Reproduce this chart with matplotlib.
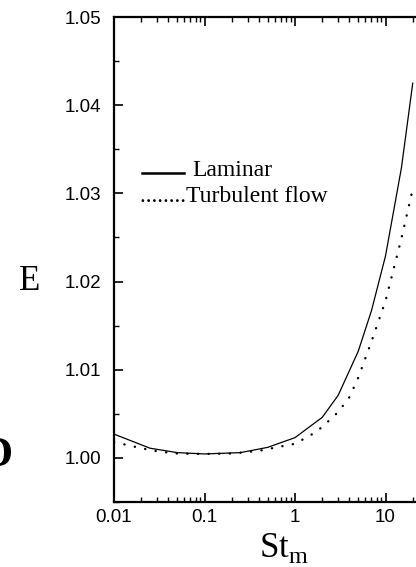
import matplotlib
matplotlib.use("Agg")
import matplotlib.pyplot as plt
from matplotlib.ticker import FixedLocator, LogLocator, NullFormatter, FixedFormatter

# Data
st_laminar = [0.01, 0.025, 0.05, 0.1, 0.25, 0.5, 1, 2, 3, 5, 7, 10, 15, 20]
e_laminar = [1.0027, 1.0011, 1.0006, 1.00045, 1.0006, 1.0012, 1.0023, 1.0046,
             1.0071, 1.0121, 1.0167, 1.0229, 1.0329, 1.0425]

st_turb = [0.01, 0.02, 0.03, 0.05, 0.1, 0.2, 0.4, 0.7, 1, 1.5, 2, 3, 4, 5, 7, 10, 15, 20]
e_turb = [1.0018, 1.0011, 1.00075, 1.0005, 1.00045, 1.0005, 1.0008, 1.0013, 1.0016,
          1.0026, 1.0035, 1.0052, 1.0069, 1.0091, 1.0132, 1.0178, 1.0249, 1.0305]

x_ticks = [0.01, 0.1, 1, 10]
x_tick_labels = ["0.01", "0.1", "1", "10"]
y_ticks = [1.00, 1.01, 1.02, 1.03, 1.04, 1.05]
y_tick_labels = ["1.00", "1.01", "1.02", "1.03", "1.04", "1.05"]

W, H = 416, 567
fig = plt.figure(figsize=(W / 100, H / 100), dpi=100)
left_px, right_px, top_px, bot_px = 114, 416, 17, 502
ax = fig.add_axes([left_px / W, 1 - bot_px / H, (right_px - left_px) / W, (bot_px - top_px) / H])

ax.plot(st_laminar, e_laminar, color="black", lw=0.9, solid_joinstyle="miter")
ax.plot(st_turb, e_turb, color="black", lw=1.7, linestyle=(0, (0.1, 4.4)),
        dash_capstyle="round")

ax.set_xscale("log")
ax.set_xlim(0.01, 10 ** (-2 + (right_px - left_px) / 90.5))
ax.set_ylim(0.995, 1.05)

ax.xaxis.set_major_locator(FixedLocator(x_ticks))
ax.xaxis.set_major_formatter(FixedFormatter(x_tick_labels))
ax.xaxis.set_minor_locator(LogLocator(base=10, subs=range(2, 10), numticks=20))
ax.xaxis.set_minor_formatter(NullFormatter())
ax.yaxis.set_major_locator(FixedLocator(y_ticks))
ax.yaxis.set_major_formatter(FixedFormatter(y_tick_labels))
ax.yaxis.set_minor_locator(FixedLocator([0.995, 1.005, 1.015, 1.025, 1.035, 1.045]))

for s in ["left", "bottom", "top"]:
    ax.spines[s].set_linewidth(1.6)
ax.spines["right"].set_visible(False)

ax.tick_params(axis="both", which="major", direction="in", length=6.5, width=1.2,
               labelsize=13.5, top=True, right=False)
ax.tick_params(axis="both", which="minor", direction="in", length=3.8, width=1.0,
               top=True, right=False)
ax.tick_params(axis="y", which="major", pad=9)
ax.tick_params(axis="x", which="major", pad=5)
for lab in ax.get_xticklabels() + ax.get_yticklabels():
    lab.set_fontfamily("Liberation Sans")

# legend drawn manually
def fx(px):
    return px / W

def fy(py):
    return 1 - py / H

fig.add_artist(plt.Line2D([fx(142), fx(184)], [fy(172.5), fy(172.5)], color="black", lw=1.8))
fig.text(fx(192), fy(176), "Laminar", family="Liberation Serif", fontsize=17,
         ha="left", va="baseline")
fig.text(fx(140), fy(202), "........Turbulent flow", family="Liberation Serif",
         fontsize=17, ha="left", va="baseline")

# axis labels
fig.text(fx(30), fy(282), "E", family="Liberation Serif", fontsize=25,
         ha="center", va="center")
plt.rcParams["mathtext.fontset"] = "custom"
plt.rcParams["mathtext.rm"] = "Liberation Serif"
fig.text(fx(284), fy(548), r"St$_{\mathrm{m}}$", family="Liberation Serif",
         fontsize=25, ha="center", va="center")

# cut-off panel letter at the left edge (it is cut off in the reference too)
fig.text(fx(12), fy(456), "D", family="Liberation Serif", fontweight="bold",
         fontsize=31, ha="right", va="center")

fig.savefig("out.png", dpi=100)
